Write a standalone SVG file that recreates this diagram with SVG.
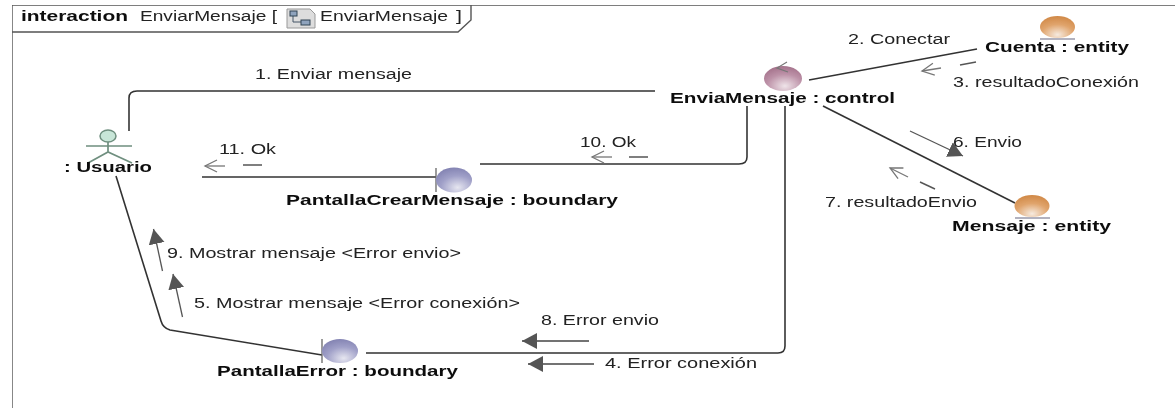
<svg xmlns="http://www.w3.org/2000/svg" width="1175" height="408" viewBox="0 0 1175 408">
<style>
text{font-family:"Liberation Sans",Arial,sans-serif;font-size:14px;fill:#222}
.b{font-weight:bold;fill:#111}
.c{fill:none;stroke:#333;stroke-width:1.6}
.m{fill:none;stroke:#777;stroke-width:1.3}
.o{marker-end:url(#open)}
.f{marker-end:url(#fill)}
.d{fill:none;stroke:#555;stroke-width:1.5}
.bar{stroke:#666;stroke-width:1.3}
.actor{stroke:#6f8f7f;stroke-width:1.7;fill:none}
</style>
<defs>
<filter id="soft" x="0" y="0" width="1" height="1"><feGaussianBlur stdDeviation="0.35"/></filter>
<marker id="open" viewBox="0 0 18 14" refX="15" refY="7" markerWidth="18" markerHeight="14" markerUnits="userSpaceOnUse" orient="auto"><path d="M3,1 L15,7 L3,13" fill="none" stroke="#777" stroke-width="1.3"/></marker>
<marker id="fill" viewBox="0 0 16 18" refX="15" refY="9" markerWidth="16" markerHeight="18" markerUnits="userSpaceOnUse" orient="auto"><path d="M0,1 L15,9 L0,17 Z" fill="#555"/></marker>
<radialGradient id="gb" cx="0.6" cy="0.8" r="0.85"><stop offset="0" stop-color="#e6e6f0"/><stop offset="0.55" stop-color="#a0a0c8"/><stop offset="1" stop-color="#8080b0"/></radialGradient>
<radialGradient id="gc" cx="0.55" cy="0.8" r="0.85"><stop offset="0" stop-color="#efe4e9"/><stop offset="0.55" stop-color="#bd92a8"/><stop offset="1" stop-color="#a06c86"/></radialGradient>
<radialGradient id="ge" cx="0.5" cy="0.85" r="0.85"><stop offset="0" stop-color="#f6eadf"/><stop offset="0.55" stop-color="#e0a46c"/><stop offset="1" stop-color="#d08846"/></radialGradient>
</defs>
<rect width="1175" height="408" fill="#fff"/>
<g filter="url(#soft)">
<g id="frame">
<path d="M12,408 V5 H1175" fill="none" stroke="#555" stroke-width="1.4"/>
<path d="M12,32 H458 L471,20 V5" fill="none" stroke="#555" stroke-width="1.4"/>
<text class="b" x="21" y="21" textLength="107" lengthAdjust="spacingAndGlyphs">interaction</text>
<text x="140" y="21" textLength="137" lengthAdjust="spacingAndGlyphs">EnviarMensaje [</text>
<path d="M287,9 H310 L315,14 V28 H287 Z" fill="#ddd" stroke="#999"/>
<path d="M293,14 V22 H301" fill="none" stroke="#456" stroke-width="1"/>
<rect x="290" y="11" width="7" height="5" fill="#8fa3bd" stroke="#345"/>
<rect x="301" y="20" width="9" height="5" fill="#8fa3bd" stroke="#345"/>
<text x="320" y="21" textLength="128" lengthAdjust="spacingAndGlyphs">EnviarMensaje</text>
<text x="456" y="21" textLength="6" lengthAdjust="spacingAndGlyphs">]</text>
</g>
<g id="connectors">
<path class="c" d="M129,131 V98 Q129,91 137,91 H655"/>
<path class="c" d="M747,106 V157 Q747,164 739,164 H480"/>
<path class="c" d="M809,80 L977,49"/>
<path class="c" d="M823,106 L1015,203"/>
<path class="c" d="M785,106 V346 Q785,353 778,353 H366"/>
<path class="c" d="M202,177 H436"/>
<path class="c" d="M116,176 L161,321 Q163,328 170,330 L322,355"/>
<line class="m o" x1="225" y1="166" x2="205" y2="166"/>
<line class="d" x1="243" y1="165" x2="262" y2="165"/>
<line class="m o" x1="612" y1="157" x2="592" y2="157"/>
<line class="d" x1="629" y1="157" x2="648" y2="157"/>
<line class="m o" x1="941" y1="68" x2="922" y2="71"/>
<line class="d" x1="960" y1="65" x2="976" y2="62"/>
<line class="m o" x1="908" y1="177" x2="890" y2="168"/>
<line class="d" x1="920" y1="182" x2="935" y2="189"/>
<line class="m f" style="stroke:#555" x1="910" y1="131" x2="963" y2="156"/>
<line class="m f" style="stroke:#555" x1="162.500" y1="271" x2="153.500" y2="229"/>
<line class="m f" style="stroke:#555" x1="182.500" y1="317" x2="173" y2="274"/>
<line class="m f" style="stroke:#444" x1="589" y1="341" x2="522" y2="341"/>
<line class="m f" style="stroke:#444" x1="594" y1="364" x2="528" y2="364"/>
<text x="255" y="79" textLength="157" lengthAdjust="spacingAndGlyphs">1. Enviar mensaje</text>
<text x="219" y="154" textLength="57" lengthAdjust="spacingAndGlyphs">11. Ok</text>
<text x="580" y="147" textLength="56" lengthAdjust="spacingAndGlyphs">10. Ok</text>
<text x="848" y="44" textLength="102" lengthAdjust="spacingAndGlyphs">2. Conectar</text>
<text x="953" y="87" textLength="186" lengthAdjust="spacingAndGlyphs">3. resultadoConexión</text>
<text x="953" y="147" textLength="69" lengthAdjust="spacingAndGlyphs">6. Envio</text>
<text x="825" y="207" textLength="152" lengthAdjust="spacingAndGlyphs">7. resultadoEnvio</text>
<text x="167" y="258" textLength="294" lengthAdjust="spacingAndGlyphs">9. Mostrar mensaje &lt;Error envio&gt;</text>
<text x="194" y="308" textLength="326" lengthAdjust="spacingAndGlyphs">5. Mostrar mensaje &lt;Error conexión&gt;</text>
<text x="541" y="325" textLength="118" lengthAdjust="spacingAndGlyphs">8. Error envio</text>
<text x="605" y="368" textLength="152" lengthAdjust="spacingAndGlyphs">4. Error conexión</text>
</g>
<g id="usuario">
<ellipse cx="108" cy="136" rx="8" ry="6" fill="#c8e6d8" stroke="#6f8f7f" stroke-width="1.5"/>
<path class="actor" d="M86,146 H132 M108,142 V152 M88,163 L108,152 L132,163"/>
<text class="b" x="64" y="172" textLength="88" lengthAdjust="spacingAndGlyphs">: Usuario</text>
</g>
<g id="pantallaCrearMensaje">
<line class="bar" x1="436" y1="168" x2="436" y2="192"/>
<ellipse cx="454" cy="180" rx="18" ry="12.500" fill="url(#gb)"/>
<text class="b" x="286" y="205" textLength="332" lengthAdjust="spacingAndGlyphs">PantallaCrearMensaje : boundary</text>
</g>
<g id="enviaMensaje">
<ellipse cx="783" cy="78.500" rx="19" ry="12.500" fill="url(#gc)"/>
<path d="M787,62 L777,68 L788,72" fill="none" stroke="#777" stroke-width="1.2"/>
<text class="b" x="670" y="103" textLength="225" lengthAdjust="spacingAndGlyphs">EnviaMensaje : control</text>
</g>
<g id="cuenta">
<ellipse cx="1057.500" cy="27" rx="17.500" ry="11" fill="url(#ge)"/>
<line class="bar" x1="1040" y1="39" x2="1075" y2="39" style="stroke:#99a"/>
<text class="b" x="985" y="52" textLength="144" lengthAdjust="spacingAndGlyphs">Cuenta : entity</text>
</g>
<g id="mensaje">
<ellipse cx="1032" cy="206" rx="17.500" ry="11" fill="url(#ge)"/>
<line class="bar" x1="1015" y1="218" x2="1050" y2="218" style="stroke:#99a"/>
<text class="b" x="952" y="231" textLength="159" lengthAdjust="spacingAndGlyphs">Mensaje : entity</text>
</g>
<g id="pantallaError">
<line class="bar" x1="322" y1="339" x2="322" y2="363"/>
<ellipse cx="340" cy="351" rx="18" ry="12" fill="url(#gb)"/>
<text class="b" x="217" y="376" textLength="241" lengthAdjust="spacingAndGlyphs">PantallaError : boundary</text>
</g>
</g>
</svg>
